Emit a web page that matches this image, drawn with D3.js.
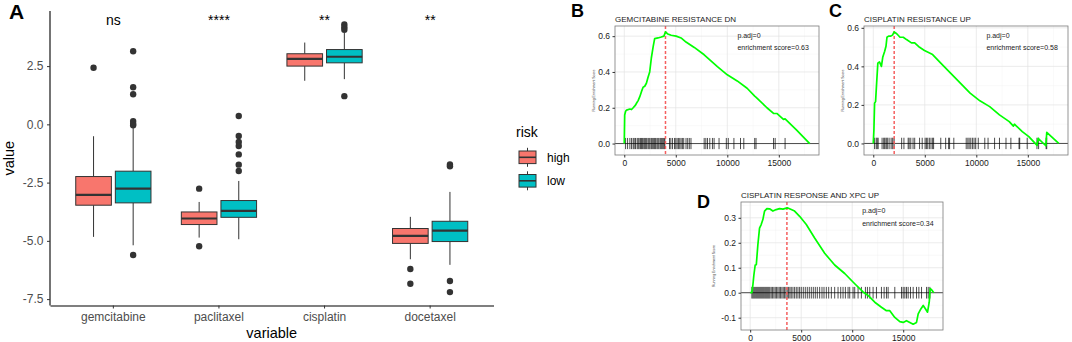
<!DOCTYPE html>
<html>
<head>
<meta charset="utf-8">
<script src="https://cdn.jsdelivr.net/npm/d3@7"></script>
<style>
  body { margin: 0; background: #fff; }
  svg { font-family: "Liberation Sans", Arial, sans-serif; display: block; }
</style>
</head>
<body>
<svg id="fig" width="1072" height="342"></svg>
<script>
// ---------- panel A data (boxplots) ----------
const drugs = ["gemcitabine", "paclitaxel", "cisplatin", "docetaxel"];
const riskGroups = ["high", "low"];
const riskColors = ["#F8766D", "#00BFC4"];
// [lower whisker, Q1, median, Q3, upper whisker]
const highStats = [
  [-4.83, -3.47, -3.03, -2.24, -0.51],
  [-4.86, -4.30, -4.04, -3.76, -3.33],
  [1.87, 2.50, 2.81, 3.03, 3.51],
  [-5.79, -5.11, -4.79, -4.47, -3.97]
];
const lowStats = [
  [-5.19, -3.37, -2.76, -2.01, -0.16],
  [-4.93, -3.99, -3.71, -3.27, -2.43],
  [1.94, 2.64, 2.90, 3.21, 3.92],
  [-6.03, -5.03, -4.56, -4.16, -2.90]
];
const highOutliers = [[2.43], [-2.76, -5.23], [], [-6.21, -6.84]];
const lowOutliers = [
  [3.14, 1.59, 1.29, 0.14, 0.03, -0.04, -5.61],
  [0.36, -0.50, -0.76, -0.93, -1.29, -1.73, -2.00],
  [4.29, 4.17, 4.06, 1.21],
  [-1.72, -1.80, -6.72, -7.20]
];
const sigLabels = ["ns", "****", "**", "**"];
const yTicksA = [-7.5, -5, -2.5, 0, 2.5];

// ---------- GSEA data ----------
const geneCount = 18000;
const gseaXTicks = [0, 5000, 10000, 15000];
const gseaXMinor = [2500, 7500, 12500, 17500];

const titleB = "GEMCITABINE RESISTANCE DN";
const esB = 0.63, padjB = 0, peakB = 4000;
const curveB = [[0,0],[40,0.16],[130,0.18],[224,0.187],[545,0.193],[705,0.19],[865,0.20],[1090,0.215],[1186,0.225],
  [1346,0.24],[1506,0.262],[1667,0.29],[1827,0.315],[1987,0.32],[2147,0.337],[2308,0.37],[2468,0.40],[2628,0.478],
  [2800,0.54],[2949,0.586],[3269,0.59],[3590,0.595],[3846,0.60],[4006,0.624],[4230,0.612],[4551,0.605],[5032,0.60],
  [5513,0.59],[5993,0.567],[6795,0.537],[7756,0.496],[9038,0.43],[10000,0.384],[10961,0.35],[11923,0.309],
  [12660,0.265],[12800,0.258],[13846,0.2],[14487,0.168],[14808,0.168],[15449,0.135],[15609,0.138],[16731,0.075],[18000,0]];
const hitsB = [128,321,545,705,865,962,1090,1250,1346,1442,1570,1667,1763,1891,1987,2083,2179,2308,2404,2500,
  2628,2724,2852,2949,3045,3173,3269,3365,3493,3590,3686,3782,3878,3942,4391,4519,4679,4872,5000,5128,5256,
  5384,5513,5641,5769,5993,6154,6314,6474,7756,7916,8077,8301,8558,8718,9198,9904,10096,10641,11282,11602,
  12660,12788,14487,14647,15609];
const yTicksB = [0, 0.2, 0.4, 0.6];

const titleC = "CISPLATIN RESISTANCE UP";
const esC = 0.58, padjC = 0, peakC = 2030;
const curveC = [[0,0],[63,0.07],[127,0.209],[222,0.217],[316,0.304],[443,0.417],[601,0.423],[791,0.40],[918,0.447],
  [1108,0.478],[1234,0.504],[1329,0.551],[1488,0.557],[1709,0.557],[1867,0.562],[2026,0.579],[2279,0.569],
  [2595,0.551],[2912,0.551],[3228,0.539],[3703,0.522],[4020,0.522],[4494,0.499],[4969,0.482],[5760,0.461],
  [6552,0.417],[7501,0.365],[8451,0.313],[9400,0.261],[10350,0.221],[11299,0.191],[12249,0.148],[13198,0.113],
  [13600,0.09],[13700,0.10],[14464,0.061],[15097,0.035],[15900,-0.01],[16000,0.026],[16750,-0.012],[16840,0.058],[18000,0]];
const hitsC = [127,285,380,475,855,1013,1108,1234,1329,1424,1614,1804,1899,2026,2754,2975,3387,3482,3640,3861,
  4020,4494,4748,5032,5159,5286,5444,5602,5760,5855,6552,7026,7311,7406,7818,9020,9179,9305,9463,9622,9780,
  9938,10191,10824,11141,11774,12249,12882,13356,14148,14211,14939,15888,16046,16774,16837];
const yTicksC = [0, 0.2, 0.4, 0.6];

const titleD = "CISPLATIN RESPONSE AND XPC UP";
const esD = 0.34, padjD = 0, peakD = 3600;
const curveD = [[0,0],[164,0.0],[262,0.03],[360,0.07],[491,0.111],[600,0.112],[753,0.192],[917,0.259],[1080,0.273],
  [1244,0.293],[1408,0.327],[1637,0.337],[1899,0.336],[2226,0.327],[2554,0.333],[2881,0.337],[3209,0.335],
  [3634,0.34],[4027,0.333],[4354,0.327],[4846,0.306],[5500,0.273],[6319,0.219],[7301,0.158],[8283,0.111],
  [9265,0.077],[10248,0.036],[11066,0.003],[11557,-0.011],[12212,-0.038],[12867,-0.058],[13358,-0.072],
  [13685,-0.072],[14176,-0.099],[14667,-0.116],[14995,-0.119],[15322,-0.112],[15649,-0.119],[15977,-0.126],
  [16305,-0.119],[16468,-0.085],[16730,-0.065],[16959,-0.051],[17188,-0.065],[17385,-0.078],[17549,-0.038],
  [17647,0.016],[17778,0.012],[18000,0.0]];
const hitsD = [164,262,360,458,557,655,753,851,949,1048,1146,1244,1342,1441,1539,1637,1735,1833,1932,2063,2194,
  2325,2456,2586,2717,2848,2979,3110,3241,3372,3503,3634,3765,3896,4027,4191,4354,4518,4682,4846,5009,5206,
  5402,5599,5795,5991,6188,6384,6581,6810,7039,7236,7465,7694,7956,8283,8611,8873,9102,9331,9593,9757,10084,
  10248,10575,10902,11295,11492,11721,12048,12376,12867,13129,13358,13522,14176,14831,14995,15159,15322,15486,
  15715,15977,16305,16534,16796,17287,17451,17614];
const yTicksD = [-0.1, 0, 0.1, 0.2, 0.3];

// ---------- drawing ----------
const svg = d3.select("#fig");
const fmt1 = d => d.toFixed(1);

// ===== Panel A =====
const gA = svg.append("g");
const xA = d3.scaleBand().domain(drugs).range([50, 493.5]).paddingInner(0).paddingOuter(0.1);
const allA = highStats.flat().concat(lowStats.flat(), highOutliers.flat(), lowOutliers.flat());
const extA = d3.extent(allA);
const padA = (extA[1] - extA[0]) * 0.05;
const yA = d3.scaleLinear().domain([extA[0] - padA, extA[1] + padA]).range([305.5, 11]);

const step = xA.step();
const boxW = step * 0.375 * 0.9;
[highStats, lowStats].forEach((stats, gi) => {
  const outs = gi === 0 ? highOutliers : lowOutliers;
  stats.forEach((s, i) => {
    const cx = xA(drugs[i]) + xA.bandwidth() / 2 + (gi === 0 ? -1 : 1) * step * 0.1875;
    const g = gA.append("g");
    g.append("line").attr("x1", cx).attr("x2", cx).attr("y1", yA(s[0])).attr("y2", yA(s[1]))
      .attr("stroke", "#333").attr("stroke-width", 1);
    g.append("line").attr("x1", cx).attr("x2", cx).attr("y1", yA(s[3])).attr("y2", yA(s[4]))
      .attr("stroke", "#333").attr("stroke-width", 1);
    g.append("rect").attr("x", cx - boxW / 2).attr("width", boxW)
      .attr("y", yA(s[3])).attr("height", yA(s[1]) - yA(s[3]))
      .attr("fill", riskColors[gi]).attr("stroke", "#333").attr("stroke-width", 1);
    g.append("line").attr("x1", cx - boxW / 2).attr("x2", cx + boxW / 2)
      .attr("y1", yA(s[2])).attr("y2", yA(s[2])).attr("stroke", "#333").attr("stroke-width", 2.2);
    g.selectAll("circle").data(outs[i]).join("circle")
      .attr("cx", cx).attr("cy", d => yA(d)).attr("r", 3.2).attr("fill", "#333");
  });
});

// axes
const axLeftA = gA.append("g").attr("transform", "translate(50,0)")
  .call(d3.axisLeft(yA).tickValues(yTicksA).tickFormat(fmt1).tickSize(3).tickSizeOuter(0).tickPadding(3.5));
const axBotA = gA.append("g").attr("transform", "translate(0,305.5)")
  .call(d3.axisBottom(xA).tickSize(3).tickSizeOuter(0).tickPadding(4));
[axLeftA, axBotA].forEach(ax => {
  ax.select(".domain").attr("stroke", "#000").attr("stroke-width", 1.1);
  ax.selectAll(".tick line").attr("stroke", "#333");
  ax.selectAll(".tick text").attr("fill", "#4d4d4d").attr("font-size", 12).attr("font-family", null);
});
axLeftA.select(".domain").attr("d", "M0," + yA.range()[1] + "V" + yA.range()[0]);

// significance labels
gA.selectAll(".sig").data(sigLabels).join("text")
  .attr("x", (d, i) => xA(drugs[i]) + xA.bandwidth() / 2).attr("y", 25)
  .attr("text-anchor", "middle").attr("font-size", 14).attr("fill", "#000").text(d => d);

// axis titles
gA.append("text").attr("transform", "translate(14," + (yA.range()[0] + yA.range()[1]) / 2 + ") rotate(-90)")
  .attr("text-anchor", "middle").attr("font-size", 14.5).text("value");
gA.append("text").attr("x", (xA.range()[0] + xA.range()[1]) / 2).attr("y", 337.5)
  .attr("text-anchor", "middle").attr("font-size", 14.5).text("variable");
gA.append("text").attr("x", 9).attr("y", 18.5).attr("font-size", 21).attr("font-weight", "bold").text("A");

// legend
const leg = gA.append("g");
leg.append("text").attr("x", 516).attr("y", 137).attr("font-size", 14).text("risk");
riskGroups.forEach((r, i) => {
  const cy = 157.3 + i * 23.5, cx = 527.5;
  leg.append("line").attr("x1", cx).attr("x2", cx).attr("y1", cy - 9.5).attr("y2", cy + 9.5)
    .attr("stroke", "#333");
  leg.append("rect").attr("x", cx - 8.5).attr("y", cy - 6.3).attr("width", 17).attr("height", 12.6)
    .attr("fill", riskColors[i]).attr("stroke", "#333");
  leg.append("line").attr("x1", cx - 8.5).attr("x2", cx + 8.5).attr("y1", cy).attr("y2", cy)
    .attr("stroke", "#333").attr("stroke-width", 1.6);
  leg.append("text").attr("x", 547).attr("y", cy + 4.3).attr("font-size", 12).text(r);
});

// ===== GSEA panels =====
const gseaPanels = [
  { label: "B", title: titleB, curve: curveB, hits: hitsB, peak: peakB, es: esB, padj: padjB, yTicks: yTicksB,
    x0: 615, x1: 819, y0: 26, y1: 155, lx: 571, ly: 17, ylabOff: 20 },
  { label: "C", title: titleC, curve: curveC, hits: hitsC, peak: peakC, es: esC, padj: padjC, yTicks: yTicksC,
    x0: 864, x1: 1068, y0: 26, y1: 155, lx: 829, ly: 17, ylabOff: 20 },
  { label: "D", title: titleD, curve: curveD, hits: hitsD, peak: peakD, es: esD, padj: padjD, yTicks: yTicksD,
    x0: 741, x1: 943, y0: 202, y1: 330, lx: 697, ly: 208, ylabOff: 26 }
];

gseaPanels.forEach(p => {
  const g = svg.append("g");
  const x = d3.scaleLinear().domain([-0.05 * geneCount, 1.05 * geneCount]).range([p.x0, p.x1]);
  const ext = d3.extent(p.curve, d => d[1]);
  const rugH = 0.05 * (ext[1] - ext[0]);
  const lo = Math.min(ext[0], -rugH), hi = ext[1];
  const pad = 0.05 * (hi - lo);
  const y = d3.scaleLinear().domain([lo - pad, hi + pad]).range([p.y1, p.y0]);

  // grid
  const dy = p.yTicks[1] - p.yTicks[0];
  const yMinor = [p.yTicks[0] - dy / 2].concat(p.yTicks.map(t => t + dy / 2))
    .filter(v => v > y.domain()[0] && v < y.domain()[1]);
  g.selectAll(".gxm").data(gseaXMinor).join("line")
    .attr("x1", d => x(d)).attr("x2", d => x(d)).attr("y1", p.y0).attr("y2", p.y1)
    .attr("stroke", "#f0f0f0").attr("stroke-width", 0.4);
  g.selectAll(".gym").data(yMinor).join("line")
    .attr("x1", p.x0).attr("x2", p.x1).attr("y1", d => y(d)).attr("y2", d => y(d))
    .attr("stroke", "#f0f0f0").attr("stroke-width", 0.4);
  g.selectAll(".gx").data(gseaXTicks).join("line")
    .attr("x1", d => x(d)).attr("x2", d => x(d)).attr("y1", p.y0).attr("y2", p.y1)
    .attr("stroke", "#e3e3e3").attr("stroke-width", 0.7);
  g.selectAll(".gy").data(p.yTicks).join("line")
    .attr("x1", p.x0).attr("x2", p.x1).attr("y1", d => y(d)).attr("y2", d => y(d))
    .attr("stroke", "#e3e3e3").attr("stroke-width", 0.7);

  // zero line and rug of hits
  g.append("line").attr("x1", p.x0).attr("x2", p.x1).attr("y1", y(0)).attr("y2", y(0))
    .attr("stroke", "#222").attr("stroke-width", 0.8);
  g.selectAll(".hit").data(p.hits).join("line")
    .attr("x1", d => x(d)).attr("x2", d => x(d)).attr("y1", y(-rugH)).attr("y2", y(rugH))
    .attr("stroke", "#000").attr("stroke-width", 0.7);

  // peak marker
  g.append("line").attr("x1", x(p.peak)).attr("x2", x(p.peak))
    .attr("y1", p.y0).attr("y2", p.y1)
    .attr("stroke", "#f55f5f").attr("stroke-width", 1.5).attr("stroke-dasharray", "3,2");

  // running score
  g.append("path").datum(p.curve)
    .attr("d", d3.line().x(d => x(d[0])).y(d => y(d[1])))
    .attr("fill", "none").attr("stroke", "#00ff00").attr("stroke-width", 1.7).attr("stroke-linejoin", "round");

  // border
  g.append("rect").attr("x", p.x0).attr("y", p.y0).attr("width", p.x1 - p.x0).attr("height", p.y1 - p.y0)
    .attr("fill", "none").attr("stroke", "#7a7a7a").attr("stroke-width", 0.8);

  // axes
  const axL = g.append("g").attr("transform", "translate(" + p.x0 + ",0)")
    .call(d3.axisLeft(y).tickValues(p.yTicks).tickFormat(fmt1).tickSize(2.5).tickPadding(2.5));
  const axB = g.append("g").attr("transform", "translate(0," + p.y1 + ")")
    .call(d3.axisBottom(x).tickValues(gseaXTicks).tickFormat(d3.format("d")).tickSize(2.5).tickPadding(2));
  [axL, axB].forEach(ax => {
    ax.select(".domain").remove();
    ax.selectAll(".tick line").attr("stroke", "#333");
    ax.selectAll(".tick text").attr("fill", "#1a1a1a").attr("font-size", 8.5).attr("font-family", null);
  });

  // texts
  g.append("text").attr("x", p.x0).attr("y", p.y0 - 4).attr("font-size", 8).attr("fill", "#1a1a1a").text(p.title);
  g.append("text").attr("x", p.lx).attr("y", p.ly).attr("font-size", 18).attr("font-weight", "bold").text(p.label);
  const ax0 = p.x0 + 0.6 * (p.x1 - p.x0), h = p.y1 - p.y0;
  g.append("text").attr("x", ax0).attr("y", p.y0 + 0.07 * h + 2.5).attr("font-size", 7).attr("fill", "#1a1a1a")
    .text("p.adj=" + p.padj);
  g.append("text").attr("x", ax0).attr("y", p.y0 + 0.165 * h + 2.5).attr("font-size", 7).attr("fill", "#1a1a1a")
    .text("enrichment score=" + p.es);
  g.append("text").attr("transform", "translate(" + (p.x0 - p.ylabOff) + "," + (p.y0 + p.y1) / 2 + ") rotate(-90)")
    .attr("text-anchor", "middle").attr("font-size", 3.5).attr("fill", "#333").text("Running Enrichment Score");
});
</script>
</body>
</html>
